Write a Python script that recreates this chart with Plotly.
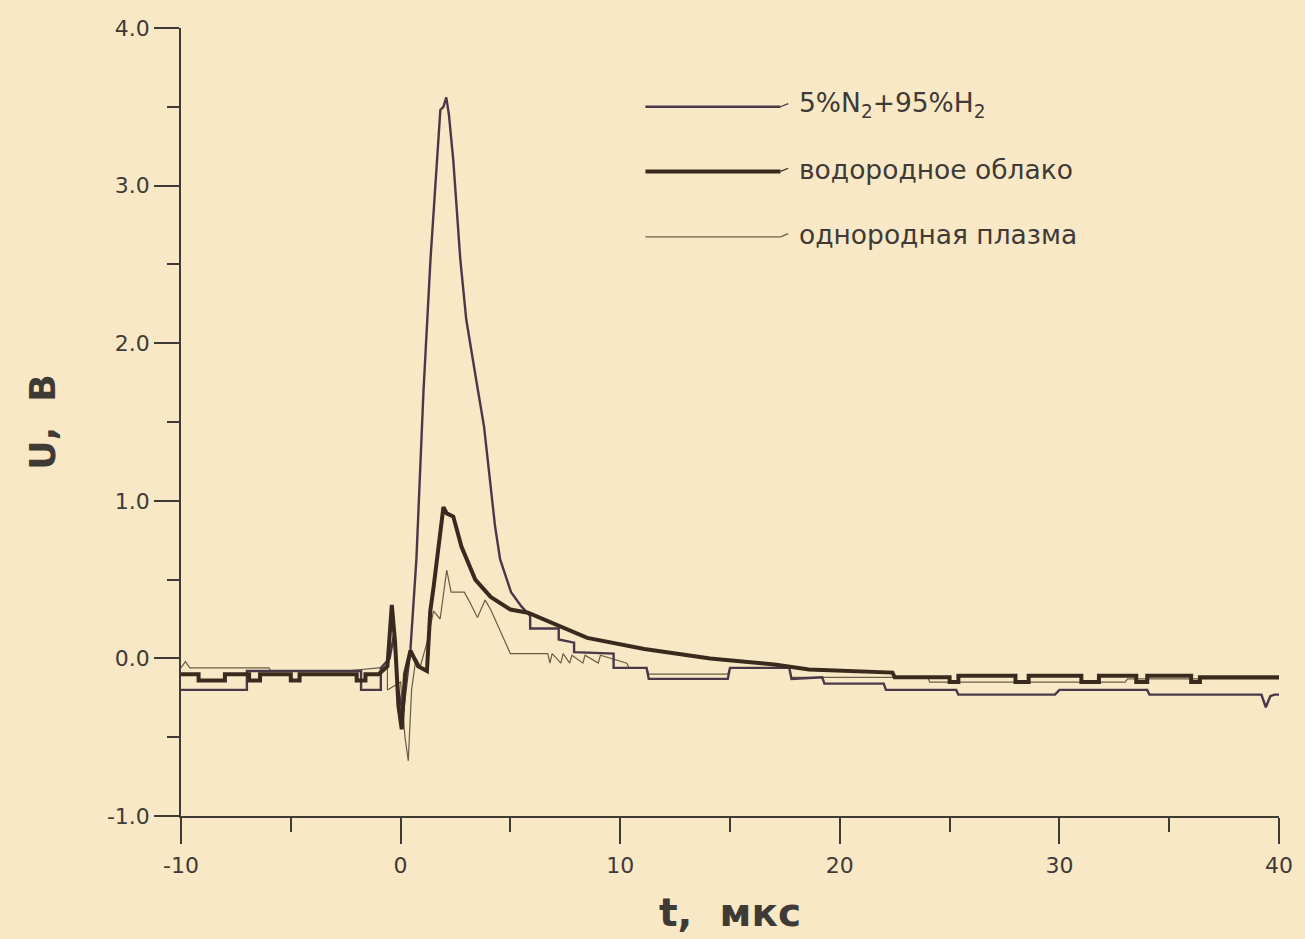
import plotly.graph_objects as go

# ---- data ----
t_n2 = [-10, -7.0, -7.0, -1.8, -1.8, -0.9, -0.9, -0.5, -0.3, -0.1, 0.1, 0.3, 0.45, 0.72, 1.04, 1.36,
        1.81, 1.95, 2.08, 2.2, 2.4, 2.72, 2.99, 3.44, 3.8, 4.3, 4.53, 5.03, 5.5, 5.9, 5.9, 7.2, 7.2,
        7.9, 7.9, 9.7, 9.7, 11.2, 11.3, 14.9, 15.0, 17.7, 17.8, 19.2, 19.3, 22.0, 22.1, 25.3, 25.4,
        29.8, 30.0, 34.0, 34.1, 39.2, 39.4, 39.6, 39.8, 40]
u_n2 = [-0.2, -0.2, -0.08, -0.08, -0.2, -0.2, -0.06, 0.0, 0.15, -0.2, -0.35, -0.1, 0.06, 0.63, 1.69, 2.53,
        3.48, 3.5, 3.56, 3.45, 3.16, 2.53, 2.15, 1.77, 1.47, 0.84, 0.63, 0.42, 0.33, 0.27, 0.19, 0.19, 0.12,
        0.1, 0.04, 0.03, -0.06, -0.06, -0.13, -0.13, -0.06, -0.06, -0.13, -0.12, -0.16, -0.16, -0.2, -0.2, -0.23,
        -0.23, -0.2, -0.2, -0.23, -0.23, -0.31, -0.24, -0.23, -0.23]

t_cloud = [-10, -9.2, -9.2, -8.0, -8.0, -6.9, -6.9, -6.4, -6.4, -5.0, -5.0, -4.6, -4.6, -2.0, -2.0,
           -1.6, -1.6, -1.0, -0.6, -0.4, -0.25, -0.1, 0.05, 0.2, 0.45, 0.8, 1.2, 1.35, 1.5, 1.7, 1.95,
           2.1, 2.4, 2.77, 3.4, 4.1, 5.0, 5.8, 7.3, 8.5, 11.1, 14.1, 17.1, 18.6, 22.4, 22.5, 25.0, 25.0,
           25.4, 25.4, 28.0, 28.0, 28.6, 28.6, 31.0, 31.0, 31.8, 31.8, 33.5, 33.5, 34.0, 34.0, 36.0, 36.0,
           36.4, 36.4, 40]
u_cloud = [-0.1, -0.1, -0.14, -0.14, -0.1, -0.1, -0.14, -0.14, -0.1, -0.1, -0.14, -0.14, -0.1, -0.1, -0.14,
           -0.14, -0.1, -0.1, -0.05, 0.34, 0.1, -0.3, -0.45, -0.1, 0.05, -0.05, -0.08, 0.3, 0.45, 0.7, 0.96,
           0.92, 0.9, 0.71, 0.5, 0.39, 0.31, 0.29, 0.2, 0.13, 0.06, 0.0, -0.04, -0.07, -0.09, -0.12, -0.12, -0.15,
           -0.15, -0.11, -0.11, -0.15, -0.15, -0.11, -0.11, -0.15, -0.15, -0.11, -0.11, -0.15, -0.15, -0.11, -0.11, -0.15,
           -0.15, -0.12, -0.12]

t_plasma = [-10, -9.8, -9.6, -6.0, -5.9, -2.5, -1.0, -0.6, -0.6, 0.0, 0.2, 0.35, 0.5, 0.7, 0.9, 1.2,
            1.5, 1.8, 2.1, 2.3, 2.9, 3.1, 3.5, 3.85, 4.1, 5.0, 6.7, 6.8, 6.9, 7.3, 7.4, 7.7, 7.8, 8.3, 8.4,
            9.0, 9.1, 10.3, 10.4, 11.2, 11.3, 14.9, 15.0, 17.7, 17.8, 24.0, 24.1, 33.0, 33.1, 40]
u_plasma = [-0.06, -0.02, -0.06, -0.06, -0.08, -0.08, -0.06, -0.06, -0.2, -0.15, -0.5, -0.65, -0.2, 0.0, -0.05, 0.1,
            0.3, 0.25, 0.56, 0.42, 0.42, 0.37, 0.26, 0.37, 0.31, 0.03, 0.03, -0.03, 0.03, -0.03, 0.03, -0.03, 0.02, -0.03, 0.02,
            -0.03, 0.02, -0.03, -0.06, -0.06, -0.1, -0.1, -0.06, -0.06, -0.12, -0.12, -0.15, -0.15, -0.13, -0.13]

y_ticks = [-1.0, 0.0, 1.0, 2.0, 3.0, 4.0]
x_ticks = [-10, 0, 10, 20, 30, 40]
legend_labels = ["5%N<sub>2</sub>+95%H<sub>2</sub>", "водородное облако", "однородная плазма"]

paper = "#f8e8c6"
ink = "#3f3a36"
font = "DejaVu Sans, Liberation Sans, Arial, sans-serif"

fig = go.Figure()
fig.add_trace(go.Scatter(x=t_plasma, y=u_plasma, mode="lines", line=dict(color="#6b5c45", width=1.2)))
fig.add_trace(go.Scatter(x=t_n2, y=u_n2, mode="lines", line=dict(color="#4a3848", width=2.4)))
fig.add_trace(go.Scatter(x=t_cloud, y=u_cloud, mode="lines", line=dict(color="#3a2a1e", width=4)))

# legend drawn as line samples + text
leg_y = [0.900, 0.818, 0.735]
leg_w = [2.4, 4, 1.2]
leg_c = ["#4a3848", "#3a2a1e", "#6b5c45"]
for yy, w, c, lab in zip(leg_y, leg_w, leg_c, legend_labels):
    fig.add_shape(type="line", xref="paper", yref="paper", x0=0.423, x1=0.546, y0=yy, y1=yy,
                  line=dict(color=c, width=w))
    fig.add_shape(type="line", xref="paper", yref="paper", x0=0.546, x1=0.553, y0=yy, y1=yy + 0.004,
                  line=dict(color=c, width=1.2))
    fig.add_annotation(xref="paper", yref="paper", x=0.561, y=yy + 0.003, text=lab, showarrow=False,
                       xanchor="left", yanchor="middle", font=dict(family=font, size=26.5, color=ink))

fig.update_layout(
    width=1305, height=939,
    margin=dict(l=181, r=20, t=28, b=122),
    paper_bgcolor=paper, plot_bgcolor=paper,
    showlegend=False,
    font=dict(family=font, color=ink),
)
fig.update_xaxes(
    range=[-10, 40], tickvals=x_ticks, ticktext=[str(v) for v in x_ticks],
    showgrid=False, zeroline=False, showline=True, linecolor=ink, linewidth=1.5,
    ticks="outside", ticklen=26, tickwidth=1.5, tickcolor=ink, ticklabelstandoff=3,
    minor=dict(dtick=5, ticks="outside", ticklen=14, tickwidth=1.5, tickcolor=ink, showgrid=False),
    tickfont=dict(size=22, color=ink, family=font),
    title=dict(text="<b>t,  мкс</b>", font=dict(size=39, color=ink, family=font), standoff=22),
)
fig.update_yaxes(
    range=[-1.0, 4.0], tickvals=y_ticks, ticktext=[f"{v:.1f}" for v in y_ticks],
    showgrid=False, zeroline=False, showline=True, linecolor=ink, linewidth=1.5,
    ticks="outside", ticklen=25, tickwidth=1.5, tickcolor=ink,
    minor=dict(dtick=0.5, ticks="outside", ticklen=12, tickwidth=1.5, tickcolor=ink, showgrid=False),
    tickfont=dict(size=22, color=ink, family=font),
    title=dict(text="<b>U,  В</b>", font=dict(size=36, color=ink, family=font), standoff=40),
)

fig.write_html("out.html")
